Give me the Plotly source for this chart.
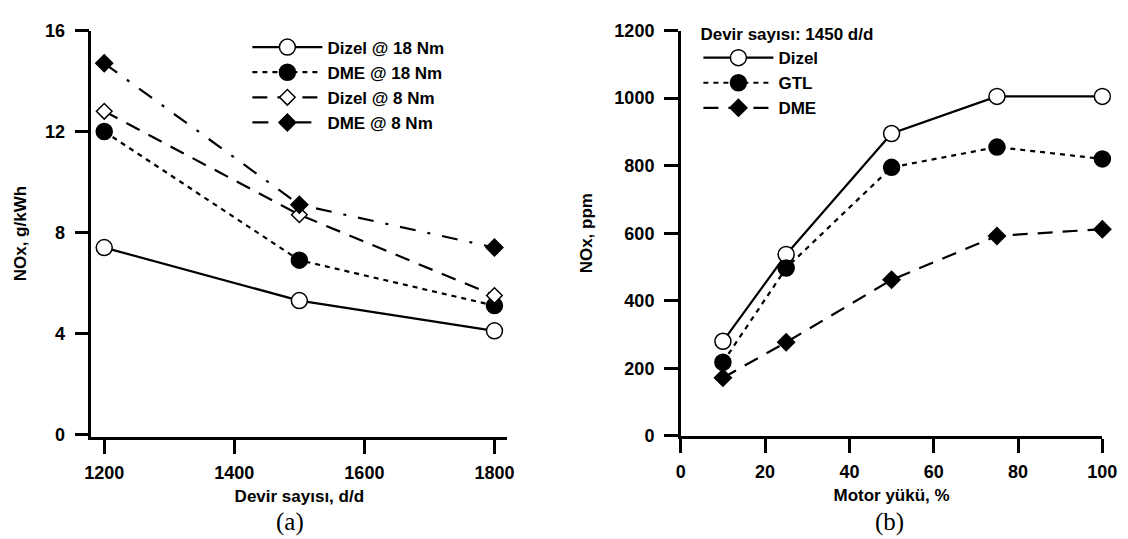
import plotly.graph_objects as go

# Left chart (a)
rpm = [1200, 1500, 1800]
dizel_18 = [7.4, 5.3, 4.1]
dme_18 = [12.0, 6.9, 5.1]
dizel_8 = [12.8, 8.7, 5.5]
dme_8 = [14.7, 9.1, 7.4]
left_ticks = [1200, 1400, 1600, 1800]
left_yticks = [0, 4, 8, 12, 16]

# Right chart (b)
load = [10, 25, 50, 75, 100]
dizel_b = [280, 537, 895, 1005, 1005]
gtl_b = [218, 497, 795, 855, 820]
dme_b = [172, 277, 462, 592, 612]
right_xticks = [0, 20, 40, 60, 80, 100]
right_yticks = [0, 200, 400, 600, 800, 1000, 1200]

FONT = "Liberation Sans"
BLK = "black"
W, H = 1128, 539

fig = go.Figure()

def add(x, y, name, dash, symbol, fill, size, xa, ya, legend):
    fig.add_trace(go.Scatter(
        x=x, y=y, name=name, mode="lines+markers",
        line=dict(color=BLK, width=2.2, dash=dash),
        marker=dict(symbol=symbol, size=size, color=fill,
                    line=dict(color=BLK, width=1.5)),
        xaxis=xa, yaxis=ya, legend=legend, cliponaxis=False))

add(rpm, dizel_18, "Dizel @ 18 Nm", "solid", "circle", "white", 16, "x", "y", "legend")
add(rpm, dme_18, "DME @ 18 Nm", "5px,5px", "circle", BLK, 16, "x", "y", "legend")
add(rpm, dizel_8, "Dizel @ 8 Nm", "15px,10px", "diamond", "white", 12, "x", "y", "legend")
add(rpm, dme_8, "DME @ 8 Nm", "16px,12px,3px,12px", "diamond", BLK, 13, "x", "y", "legend")

add(load, dizel_b, "Dizel", "solid", "circle", "white", 16, "x2", "y2", "legend2")
add(load, gtl_b, "GTL", "5px,5px", "circle", BLK, 16, "x2", "y2", "legend2")
add(load, dme_b, "DME", "15px,10px", "diamond", BLK, 13, "x2", "y2", "legend2")

axis_common = dict(showline=True, linecolor=BLK, linewidth=2.5, ticks="outside",
                   ticklen=14, tickwidth=2.5, tickcolor=BLK, showgrid=False, zeroline=False,
                   tickfont=dict(family=FONT, size=18, color=BLK, weight="bold"))
title_font = dict(family=FONT, size=17, color=BLK, weight="bold")

fig.update_layout(
    width=W, height=H, margin=dict(l=0, r=0, t=0, b=0),
    plot_bgcolor="white", paper_bgcolor="white", showlegend=True,
    xaxis=dict(domain=[78/W, 502/W], range=[1180.4, 1819.6], tickvals=left_ticks,
               anchor="y", title=dict(text="Devir sayısı, d/d", font=title_font, standoff=8),
               ticklabelstandoff=4, **axis_common),
    yaxis=dict(domain=[1-435/H, 1-13/H], range=[-0.1, 16], tickvals=left_yticks,
               anchor="x", ticklabelstandoff=6, **axis_common),
    xaxis2=dict(domain=[679/W, 1109/W], range=[0, 100], tickvals=right_xticks,
                anchor="y2", title=dict(text="Motor yükü, %", font=title_font, standoff=8),
                ticklabelstandoff=4, **axis_common),
    yaxis2=dict(domain=[1-434/H, 1-13/H], range=[0, 1200], tickvals=right_yticks,
                anchor="x2", title=dict(text="NOx, ppm", font=title_font, standoff=18),
                ticklabelstandoff=6, **axis_common),
    legend=dict(x=237/W, y=1-12/H, xanchor="left", yanchor="top",
                bgcolor="rgba(0,0,0,0)", itemwidth=70, tracegroupgap=0,
                font=dict(family=FONT, size=17, color=BLK, weight="bold")),
    legend2=dict(x=697/W, y=1.0, xanchor="left", yanchor="top",
                 bgcolor="rgba(0,0,0,0)", itemwidth=70,
                 title=dict(text="Devir sayısı: 1450 d/d",
                            font=dict(family=FONT, size=17, color=BLK, weight="bold")),
                 font=dict(family=FONT, size=17, color=BLK, weight="bold")),
)

# left y-axis title placed close to the frame edge as in the reference
fig.add_annotation(text="NOx, g/kWh", x=20/W, y=1-224/H, xref="paper", yref="paper",
                   textangle=-90, xanchor="center", yanchor="middle", xshift=-14,
                   showarrow=False, font=title_font)

for txt, xc in [("(a)", 280), ("(b)", 892)]:
    fig.add_annotation(text=txt, x=xc/W, y=1-523/H, xref="paper", yref="paper",
                       xanchor="center", yanchor="middle", showarrow=False,
                       font=dict(family="Liberation Serif, Times New Roman, serif",
                                 size=25, color=BLK))

fig.write_html("out.html")
